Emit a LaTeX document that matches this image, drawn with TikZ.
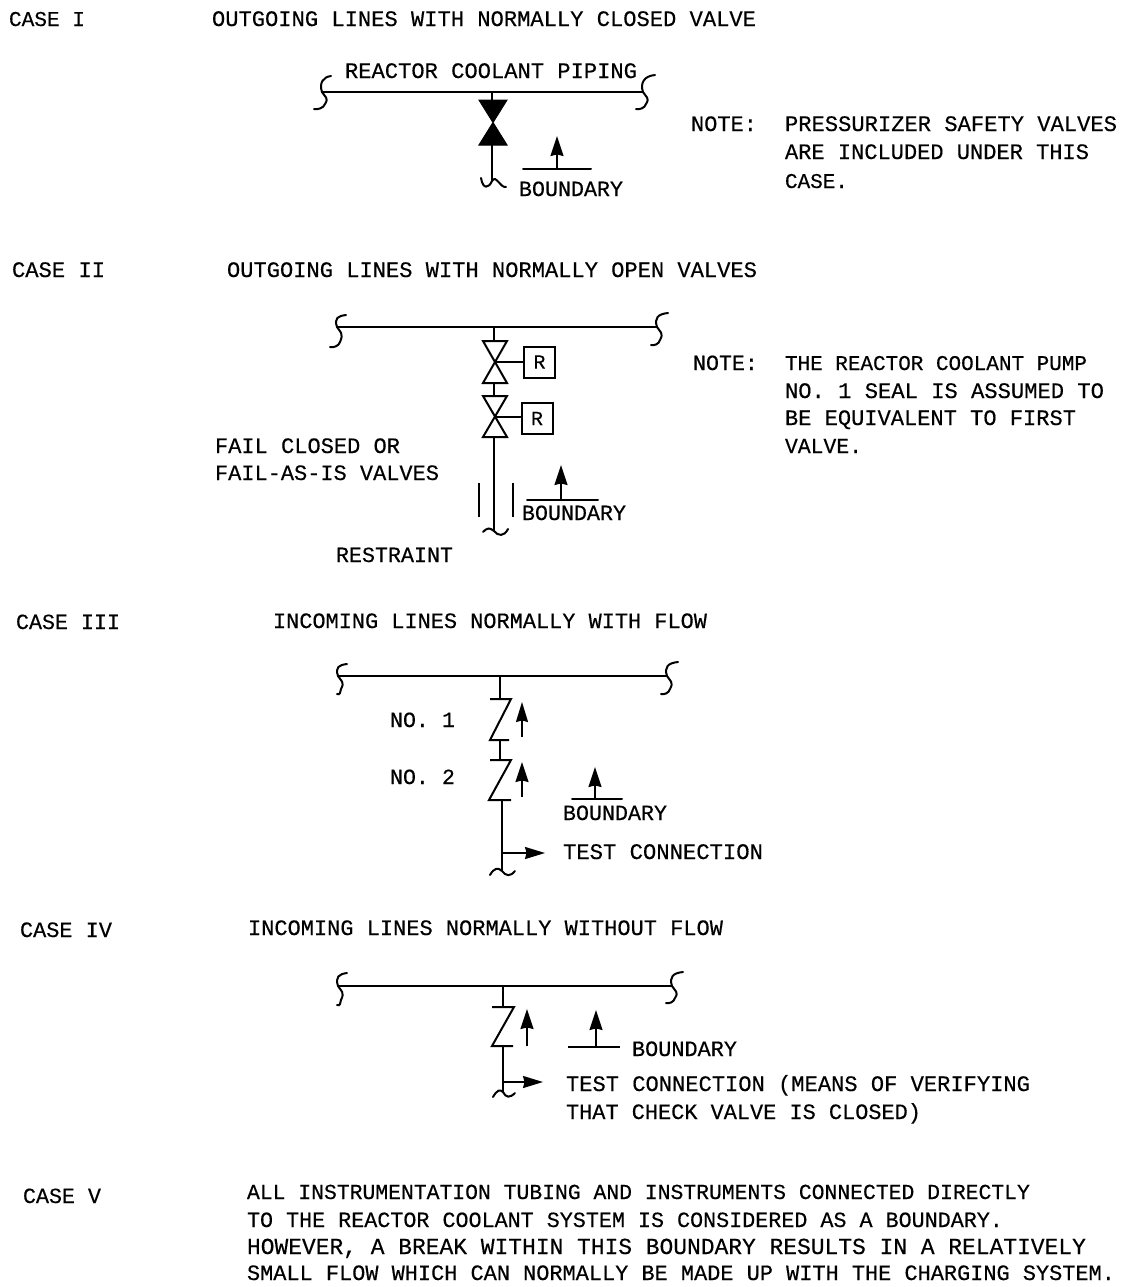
\documentclass[tikz,border=0pt]{standalone}
\usepackage{fontspec}
\usepackage{graphicx}
\setmainfont[FakeBold=0.35]{Liberation Mono}
\usetikzlibrary{arrows.meta}
\tikzset{
  x=0.5pt,y=-0.5pt,
  pipe/.style={line width=1pt,black,line cap=round},
  thin pipe/.style={line width=0.8pt,black},
  flowarrow/.style={line width=0.9pt,black,-{Stealth[length=10pt,width=6.5pt,inset=0.8pt]}},
  sideflow/.style={line width=0.9pt,black,-{Stealth[length=10pt,width=6pt,inset=0.8pt]}},
  openvalve/.style={line width=1pt,black,line join=miter},
  shutvalve/.style={fill=black,draw=black,line width=0.5pt},
  rbox/.style={draw=black,line width=1pt,minimum width=15.5pt,minimum height=15.5pt,inner sep=0pt,font=\fontsize{10}{10}\selectfont},
  txt/.style={anchor=base west,inner sep=0pt,outer sep=0pt,black},
}
\newcommand{\Tx}[5]{%
  \pgfmathsetlengthmacro{\tw}{(#3-#2)*0.5pt}%
  \node[txt] (#1) at (#2,#4+7) {\resizebox{\tw}{!}{\fontsize{11}{11}\selectfont #5}};}
% integral-shaped break mark: top x,y ; pipe-end x,y ; bottom x,y
\newcommand{\Sq}[6]{\draw[pipe] (#1,#2) .. controls (#3+1,#2+1) and (#3-3,#4-9) .. (#3,#4) .. controls (#3+3,#4+5) and (#3+7,#4+6) .. (#3+3,#6-5) .. controls (#3+2,#6-1) and (#5+3,#6+1) .. (#5,#6);}
\begin{document}
\begin{tikzpicture}
\useasboundingbox (0,0) rectangle (1125,1287);
\fill[white] (0,0) rectangle (1125,1287);

% ---------- CASE I
\Tx{c1}{9}{85}{19}{CASE I}
\Tx{c1t}{212}{756}{19}{OUTGOING LINES WITH NORMALLY CLOSED VALVE}
\Tx{c1p}{345}{637}{71}{REACTOR COOLANT PIPING}
\Tx{c1b}{519}{623}{189}{BOUNDARY}
\Tx{c1n}{691}{757}{124}{NOTE:}
\Tx{c1n1}{785}{1117}{124}{PRESSURIZER SAFETY VALVES}
\Tx{c1n2}{785}{1089}{152}{ARE INCLUDED UNDER THIS}
\Tx{c1n3}{785}{848}{181}{CASE.}
\coordinate (p1l) at (322,92);
\coordinate (p1r) at (643,92);
\coordinate (p1t) at (492,92);
\coordinate (v1t) at (492,100);
\coordinate (v1b) at (492,145);
\coordinate (s1e) at (492,181);
\draw[pipe] (p1l) -- (p1r);
\Sq{331}{76}{322}{92}{314}{109}
\Sq{655}{75}{643}{92}{636}{109}
\draw[thin pipe] (p1t) -- (v1t);
\draw[shutvalve] (479,100) -- (507,100) -- (479,145) -- (507,145) -- cycle;
\draw[pipe] (v1b) -- (s1e);
\draw[pipe] (481,178) .. controls (483,190) and (489,188) .. (s1e) .. controls (496,174) and (500,188) .. (506,187);
\coordinate (b1a) at (523,169);
\coordinate (b1c) at (591,169);
\coordinate (b1m) at (557,169);
\coordinate (b1t) at (557,136);
\draw[pipe] (b1a) -- (b1c);
\draw[flowarrow] (b1m) -- (b1t);

% ---------- CASE II
\Tx{c2}{12}{105}{270}{CASE II}
\Tx{c2t}{227}{757}{270}{OUTGOING LINES WITH NORMALLY OPEN VALVES}
\Tx{c2n}{693}{758}{363}{NOTE:}
\Tx{c2n1}{785}{1087}{363}{THE REACTOR COOLANT PUMP}
\Tx{c2n2}{785}{1104}{391}{NO. 1 SEAL IS ASSUMED TO}
\Tx{c2n3}{785}{1076}{418}{BE EQUIVALENT TO FIRST}
\Tx{c2n4}{785}{862}{446}{VALVE.}
\Tx{c2f1}{215}{400}{446}{FAIL CLOSED OR}
\Tx{c2f2}{215}{439}{473}{FAIL-AS-IS VALVES}
\Tx{c2b}{522}{626}{513}{BOUNDARY}
\Tx{c2r}{336}{453}{555}{RESTRAINT}
\coordinate (p2l) at (337,327);
\coordinate (p2r) at (657,327);
\coordinate (p2t) at (494,327);
\coordinate (v2at) at (494,341);
\coordinate (v2am) at (495,362);
\coordinate (v2ab) at (494,383);
\coordinate (v2bt) at (494,396);
\coordinate (v2bm) at (495,417);
\coordinate (v2bb) at (494,437);
\coordinate (s2e) at (494,531);
\draw[pipe] (p2l) -- (p2r);
\Sq{346}{315}{337}{327}{330}{347}
\Sq{668}{313}{657}{327}{651}{345}
\draw[thin pipe] (p2t) -- (v2at);
\draw[openvalve] (483,341) -- (507,341) -- (483,383) -- (507,383) -- cycle;
\draw[thin pipe] (v2ab) -- (v2bt);
\draw[openvalve] (483,396) -- (507,396) -- (483,437) -- (507,437) -- cycle;
\node[rbox] (r1) at (539.5,362) {R};
\node[rbox] (r2) at (537,418.5) {R};
\draw[thin pipe] (v2am) -- (r1.west);
\draw[pipe] (v2bm) -- (r2.west |- v2bm);
\draw[thin pipe] (v2bb) -- (s2e);
\coordinate (g2a) at (479,483);
\coordinate (g2b) at (479,517);
\coordinate (g2c) at (513,483);
\coordinate (g2d) at (513,517);
\draw[thin pipe] (g2a) -- (g2b);
\draw[thin pipe] (g2c) -- (g2d);
\draw[pipe] (483,532) .. controls (488,527) and (490,528) .. (s2e) .. controls (498,536) and (504,537) .. (508,529);
\coordinate (b2a) at (527,500);
\coordinate (b2c) at (598,500);
\coordinate (b2m) at (561,500);
\coordinate (b2t) at (561,465);
\draw[pipe] (b2a) -- (b2c);
\draw[flowarrow] (b2m) -- (b2t);

% ---------- CASE III
\Tx{c3}{16}{120}{622}{CASE III}
\Tx{c3t}{273}{707}{621}{INCOMING LINES NORMALLY WITH FLOW}
\Tx{c3a}{390}{455}{720}{NO. 1}
\Tx{c3c}{390}{455}{777}{NO. 2}
\Tx{c3b}{563}{667}{813}{BOUNDARY}
\Tx{c3e}{563}{763}{852}{TEST CONNECTION}
\coordinate (p3l) at (338,676);
\coordinate (p3r) at (667,676);
\coordinate (p3t) at (500,676);
\coordinate (v3at) at (500,699);
\coordinate (v3ab) at (500,740);
\coordinate (v3bt) at (500,760);
\coordinate (v3bb) at (502,800);
\coordinate (s3e) at (502,871);
\coordinate (s3x) at (502,853);
\coordinate (s3y) at (545,853);
\draw[pipe] (p3l) -- (p3r);
\Sq{347}{664}{338}{676}{337}{694}
\Sq{678}{662}{667}{676}{661}{694}
\draw[pipe] (p3t) -- (v3at);
\draw[openvalve] (490,699) -- (511,699) -- (490,740) -- (509,740);
\draw[thin pipe] (v3ab) -- (v3bt);
\draw[openvalve] (490,760) -- (511,760) -- (489,800) -- (511,800);
\draw[thin pipe] (v3bb) -- (s3e);
\draw[pipe] (490,875) .. controls (494,868) and (498,867) .. (s3e) .. controls (506,876) and (510,877) .. (515,871);
\draw[sideflow] (s3x) -- (s3y);
\coordinate (f3a) at (522,737);
\coordinate (f3b) at (522,702);
\coordinate (f3c) at (522,797);
\coordinate (f3d) at (522,762);
\draw[sideflow] (f3a) -- (f3b);
\draw[flowarrow] (f3c) -- (f3d);
\coordinate (b3a) at (572,799);
\coordinate (b3c) at (622,799);
\coordinate (b3m) at (595,799);
\coordinate (b3t) at (595,767);
\draw[pipe] (b3a) -- (b3c);
\draw[flowarrow] (b3m) -- (b3t);

% ---------- CASE IV
\Tx{c4}{20}{112}{930}{CASE IV}
\Tx{c4t}{248}{723}{928}{INCOMING LINES NORMALLY WITHOUT FLOW}
\Tx{c4b}{632}{737}{1049}{BOUNDARY}
\Tx{c4e}{566}{1030}{1084}{TEST CONNECTION (MEANS OF VERIFYING}
\Tx{c4f}{566}{921}{1112}{THAT CHECK VALVE IS CLOSED)}
\coordinate (p4l) at (338,986);
\coordinate (p4r) at (672,986);
\coordinate (p4t) at (503,986);
\coordinate (v4t) at (503,1007);
\coordinate (v4b) at (503,1046);
\coordinate (s4e) at (503,1092);
\coordinate (s4x) at (503,1082);
\coordinate (s4y) at (543,1082);
\draw[line width=1.2pt,black] (p4l) -- (p4r);
\Sq{347}{973}{338}{986}{337}{1005}
\Sq{683}{972}{672}{986}{666}{1003}
\draw[pipe] (p4t) -- (v4t);
\draw[openvalve] (492,1007) -- (514,1007) -- (492,1046) -- (513,1046);
\draw[pipe] (v4b) -- (s4e);
\draw[pipe] (493,1097) .. controls (497,1090) and (500,1089) .. (s4e) .. controls (506,1098) and (510,1098) .. (515,1093);
\draw[sideflow] (s4x) -- (s4y);
\coordinate (f4a) at (527,1046);
\coordinate (f4b) at (527,1009);
\draw[flowarrow] (f4a) -- (f4b);
\coordinate (b4a) at (568,1047);
\coordinate (b4c) at (620,1047);
\coordinate (b4m) at (596,1047);
\coordinate (b4t) at (596,1010);
\draw[line width=1.2pt,black] (b4a) -- (b4c);
\draw[flowarrow] (b4m) -- (b4t);

% ---------- CASE V
\Tx{c5}{23}{101}{1196}{CASE V}
\Tx{c5a}{247}{1030}{1192}{ALL INSTRUMENTATION TUBING AND INSTRUMENTS CONNECTED DIRECTLY}
\Tx{c5b}{247}{1003}{1220}{TO THE REACTOR COOLANT SYSTEM IS CONSIDERED AS A BOUNDARY.}
\Tx{c5c}{247}{1086}{1247}{HOWEVER, A BREAK WITHIN THIS BOUNDARY RESULTS IN A RELATIVELY}
\Tx{c5d}{247}{1115}{1273}{SMALL FLOW WHICH CAN NORMALLY BE MADE UP WITH THE CHARGING SYSTEM.}
\end{tikzpicture}
\end{document}
